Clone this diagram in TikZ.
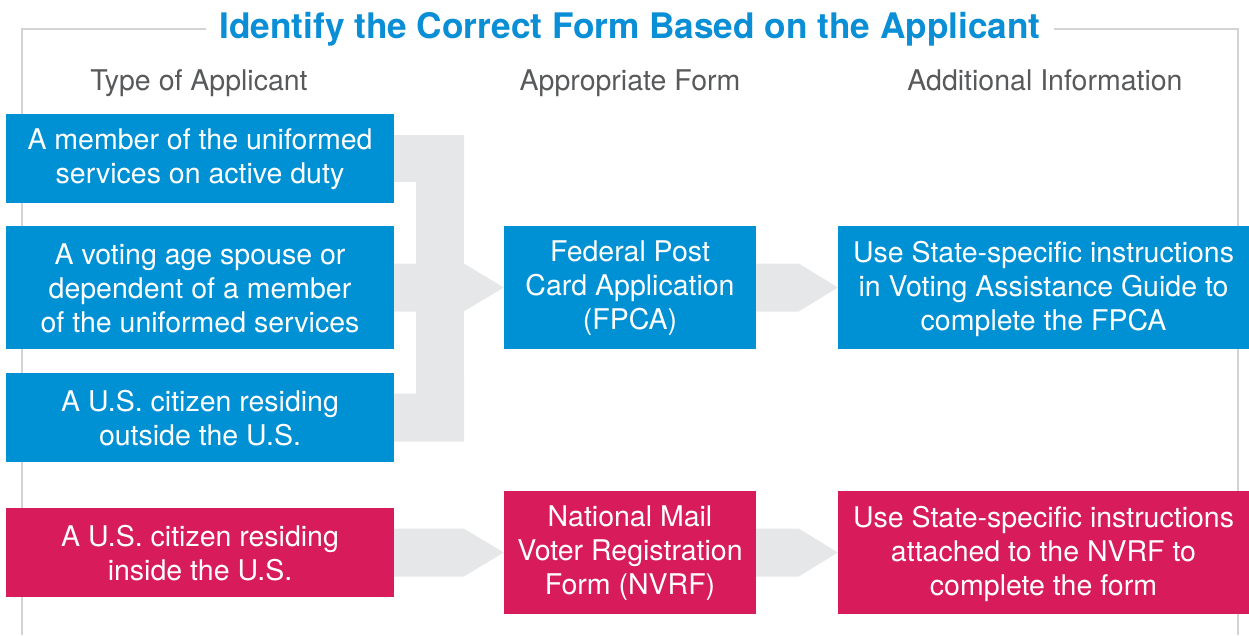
\documentclass[tikz,border=0pt]{standalone}
\usepackage{fontspec}
\setmainfont{TeX Gyre Heros}
\usetikzlibrary{calc}
\definecolor{fblue}{HTML}{0091D5}
\definecolor{fpink}{HTML}{D81B5B}
\definecolor{agray}{HTML}{E6E7E8}
\definecolor{framegray}{HTML}{D1D3D4}
\definecolor{hgray}{HTML}{58595B}
\definecolor{tblue}{HTML}{0A8FD6}
\pgfdeclarelayer{background}
\pgfsetlayers{background,main}
\begin{document}
\begin{tikzpicture}[x=1pt,y=-1pt,
  boxtext/.style={inner sep=0pt, align=center, text=white, yshift=-1pt, font=\fontsize{28.5}{34}\selectfont},
  box/.style={inner sep=0pt},
  bluebox/.style={box, fill=fblue},
  pinkbox/.style={box, fill=fpink},
  header/.style={anchor=base, text=hgray, font=\fontsize{28.5}{34}\selectfont},
  conn/.style={fill=agray, draw=none},
  framestyle/.style={draw=framegray, line width=1.5pt}
]
\useasboundingbox (0,0) rectangle (1249,635);

% title
\node[anchor=base, text=tblue, inner xsep=13pt, font=\fontsize{35.2}{40}\selectfont\bfseries] (title) at (630,38) {Identify the Correct Form Based on the Applicant};

% headers
\node[header] (h1) at (199,90) {Type of Applicant};
\node[header] (h2) at (630,90) {Appropriate Form};
\node[header] (h3) at (1045,90) {Additional Information};

% left boxes
\node[bluebox, minimum width=388pt, minimum height=89pt,
  label={[boxtext]center:{A member of the uniformed\\services on active duty}}] (b1) at (200,158.5) {};
\node[bluebox, minimum width=388pt, minimum height=123pt,
  label={[boxtext]center:{A voting age spouse or\\dependent of a member\\of the uniformed services}}] (b2) at (200,287.5) {};
\node[bluebox, minimum width=388pt, minimum height=89pt,
  label={[boxtext]center:{A U.S. citizen residing\\outside the U.S.}}] (b3) at (200,417.5) {};
\node[pinkbox, minimum width=388pt, minimum height=89pt,
  label={[boxtext]center:{A U.S. citizen residing\\inside the U.S.}}] (b4) at (200,552.5) {};

% middle boxes
\node[bluebox, minimum width=252pt, minimum height=123pt,
  label={[boxtext]center:{Federal Post\\Card Application\\(FPCA)}}] (f1) at (630,287.5) {};
\node[pinkbox, minimum width=252pt, minimum height=123pt,
  label={[boxtext]center:{National Mail\\Voter Registration\\Form (NVRF)}}] (f2) at (630,552.5) {};

% right boxes
\node[bluebox, minimum width=411pt, minimum height=123pt,
  label={[boxtext]center:{Use State-specific instructions\\in Voting Assistance Guide to\\complete the FPCA}}] (r1) at (1043.5,287.5) {};
\node[pinkbox, minimum width=411pt, minimum height=123pt,
  label={[boxtext]center:{Use State-specific instructions\\attached to the NVRF to\\complete the form}}] (r2) at (1043.5,552.5) {};

\begin{pgfonlayer}{background}
  % frame
  \coordinate (fbl) at (22,635);
  \coordinate (fbr) at (1238,635);
  \draw[framestyle] (fbl) -- (22,29) -- (title.west |- 0,29);
  \draw[framestyle] (title.east |- 0,29) -- (1238,29) -- (fbr);

  % bracket connector from b1, b2, b3 to f1
  \fill[conn] ([yshift=23.5pt]b1.east) -- ([xshift=70pt,yshift=23.5pt]b1.east)
    -- ([xshift=-40pt,yshift=24pt]f1.west) -- (f1.west) -- ([xshift=-40pt,yshift=-24pt]f1.west)
    -- ([xshift=70pt,yshift=-24pt]b3.east) -- ([yshift=-24pt]b3.east)
    -- ([yshift=24pt]b3.east) -- ([xshift=22pt,yshift=24pt]b3.east)
    -- ([xshift=22pt,yshift=-24pt]b2.east) -- ([yshift=-24pt]b2.east)
    -- ([yshift=24pt]b2.east) -- ([xshift=22pt,yshift=24pt]b2.east)
    -- ([xshift=22pt,yshift=-23.5pt]b1.east) -- ([yshift=-23.5pt]b1.east) -- cycle;

  % f1 -> r1
  \fill[conn] ([yshift=24pt]f1.east) -- ([xshift=-39pt,yshift=24pt]r1.west) -- (r1.west)
    -- ([xshift=-39pt,yshift=-24pt]r1.west) -- ([yshift=-24pt]f1.east) -- cycle;
  % b4 -> f2
  \fill[conn] ([yshift=24pt]b4.east) -- ([xshift=-40pt,yshift=24pt]f2.west) -- (f2.west)
    -- ([xshift=-40pt,yshift=-24pt]f2.west) -- ([yshift=-24pt]b4.east) -- cycle;
  % f2 -> r2
  \fill[conn] ([yshift=24pt]f2.east) -- ([xshift=-39pt,yshift=24pt]r2.west) -- (r2.west)
    -- ([xshift=-39pt,yshift=-24pt]r2.west) -- ([yshift=-24pt]f2.east) -- cycle;
\end{pgfonlayer}
\end{tikzpicture}
\end{document}
